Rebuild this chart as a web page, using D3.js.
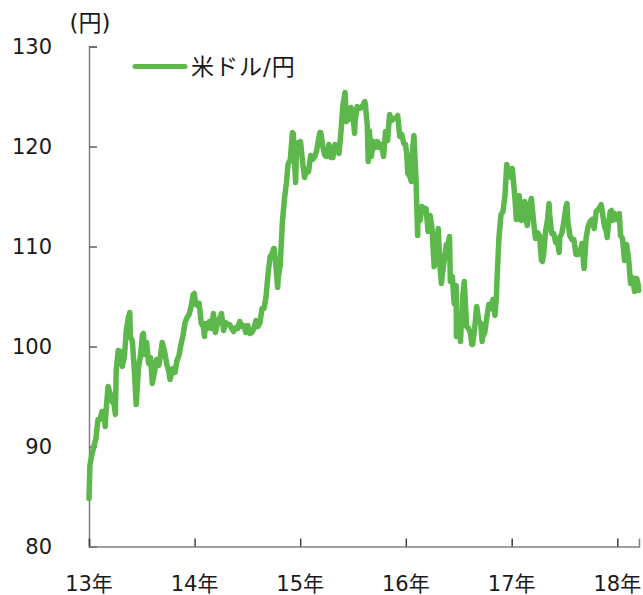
<!DOCTYPE html>
<html lang="ja">
<head>
<meta charset="utf-8">
<script src="https://cdn.jsdelivr.net/npm/d3@7"></script>
<style>
  html, body { margin: 0; padding: 0; background: #fff; }
  svg { display: block; }
  text { font-family: "DejaVu Sans", "Noto Sans CJK JP", sans-serif; fill: #1a1a1a; }
</style>
</head>
<body>
<svg id="chart" width="643" height="595"></svg>
<script>
// USD/JPY observations, 2013 – Mar 2018
const dates = [
  // 2013
  "2013-01-01","2013-01-04","2013-01-11","2013-01-18","2013-01-25","2013-02-01","2013-02-08","2013-02-15","2013-02-22","2013-02-26",
  "2013-03-01","2013-03-08","2013-03-15","2013-03-22","2013-03-29","2013-04-02","2013-04-05","2013-04-12","2013-04-19","2013-04-26",
  "2013-05-03","2013-05-10","2013-05-17","2013-05-22","2013-05-24","2013-05-31","2013-06-07","2013-06-13","2013-06-21","2013-06-28",
  "2013-07-05","2013-07-08","2013-07-12","2013-07-19","2013-07-26","2013-08-02","2013-08-08","2013-08-16","2013-08-23","2013-08-30",
  "2013-09-06","2013-09-11","2013-09-20","2013-09-27","2013-10-04","2013-10-08","2013-10-18","2013-10-25","2013-11-01","2013-11-08",
  "2013-11-15","2013-11-22","2013-11-29","2013-12-06","2013-12-13","2013-12-20","2013-12-27","2013-12-31",
  // 2014
  "2014-01-02","2014-01-06","2014-01-10","2014-01-17","2014-01-24","2014-01-31","2014-02-04","2014-02-07","2014-02-14","2014-02-21",
  "2014-02-28","2014-03-07","2014-03-14","2014-03-21","2014-03-28","2014-04-04","2014-04-11","2014-04-18","2014-04-25","2014-05-02",
  "2014-05-09","2014-05-16","2014-05-23","2014-05-30","2014-06-06","2014-06-13","2014-06-20","2014-06-27","2014-07-04","2014-07-11",
  "2014-07-18","2014-07-25","2014-08-01","2014-08-08","2014-08-15","2014-08-22","2014-08-29","2014-09-05","2014-09-12","2014-09-19",
  "2014-09-26","2014-10-01","2014-10-03","2014-10-10","2014-10-15","2014-10-17","2014-10-24","2014-10-31","2014-11-07","2014-11-14",
  "2014-11-20","2014-11-28","2014-12-05","2014-12-08","2014-12-12","2014-12-16","2014-12-19","2014-12-26","2014-12-31",
  // 2015
  "2015-01-02","2015-01-09","2015-01-16","2015-01-23","2015-01-30","2015-02-06","2015-02-13","2015-02-20","2015-02-27","2015-03-06",
  "2015-03-10","2015-03-13","2015-03-20","2015-03-27","2015-04-03","2015-04-10","2015-04-17","2015-04-24","2015-05-01","2015-05-08",
  "2015-05-15","2015-05-22","2015-05-28","2015-06-05","2015-06-10","2015-06-12","2015-06-19","2015-06-26","2015-07-03","2015-07-08",
  "2015-07-10","2015-07-17","2015-07-24","2015-07-31","2015-08-07","2015-08-12","2015-08-14","2015-08-21","2015-08-24","2015-08-28",
  "2015-09-04","2015-09-11","2015-09-18","2015-09-25","2015-10-02","2015-10-09","2015-10-16","2015-10-23","2015-10-30","2015-11-06",
  "2015-11-13","2015-11-20","2015-11-27","2015-12-04","2015-12-11","2015-12-18","2015-12-25","2015-12-31",
  // 2016
  "2016-01-04","2016-01-08","2016-01-15","2016-01-20","2016-01-22","2016-01-29","2016-02-05","2016-02-11","2016-02-12","2016-02-19",
  "2016-02-26","2016-03-04","2016-03-11","2016-03-18","2016-03-25","2016-04-01","2016-04-08","2016-04-15","2016-04-22","2016-04-28",
  "2016-05-03","2016-05-06","2016-05-13","2016-05-20","2016-05-27","2016-05-31","2016-06-03","2016-06-10","2016-06-16","2016-06-23",
  "2016-06-24","2016-06-27","2016-06-30","2016-07-08","2016-07-15","2016-07-21","2016-07-29","2016-08-05","2016-08-12","2016-08-16",
  "2016-08-19","2016-08-26","2016-09-02","2016-09-09","2016-09-16","2016-09-21","2016-09-23","2016-09-30","2016-10-07","2016-10-14",
  "2016-10-21","2016-10-28","2016-11-04","2016-11-09","2016-11-11","2016-11-18","2016-11-25","2016-12-02","2016-12-09","2016-12-15",
  "2016-12-23","2016-12-30",
  // 2017
  "2017-01-03","2017-01-06","2017-01-13","2017-01-17","2017-01-20","2017-01-27","2017-01-31","2017-02-03","2017-02-10","2017-02-15",
  "2017-02-17","2017-02-24","2017-03-03","2017-03-10","2017-03-17","2017-03-24","2017-03-31","2017-04-07","2017-04-14","2017-04-17",
  "2017-04-21","2017-04-28","2017-05-05","2017-05-10","2017-05-12","2017-05-19","2017-05-26","2017-06-02","2017-06-09","2017-06-14",
  "2017-06-16","2017-06-23","2017-06-30","2017-07-07","2017-07-11","2017-07-14","2017-07-21","2017-07-28","2017-08-04","2017-08-11",
  "2017-08-18","2017-08-25","2017-09-01","2017-09-08","2017-09-15","2017-09-22","2017-09-29","2017-10-06","2017-10-13","2017-10-20",
  "2017-10-27","2017-11-03","2017-11-06","2017-11-10","2017-11-17","2017-11-24","2017-11-27","2017-12-01","2017-12-08","2017-12-12",
  "2017-12-15","2017-12-22","2017-12-29",
  // 2018
  "2018-01-05","2018-01-08","2018-01-12","2018-01-19","2018-01-26","2018-02-02","2018-02-09","2018-02-16","2018-02-23","2018-03-02",
  "2018-03-09","2018-03-14","2018-03-16"
];

const usdJpy = [
  // 2013
  84.8, 88.1, 89.2, 90.0, 90.8, 92.7, 92.7, 93.5, 93.4, 92.0,
  93.6, 96.0, 95.3, 94.5, 94.2, 93.2, 97.6, 99.6, 99.5, 98.0,
  98.9, 101.6, 102.9, 103.4, 101.0, 100.5, 97.5, 94.2, 97.9, 99.1,
  101.2, 101.3, 99.2, 100.4, 98.3, 98.9, 96.3, 97.6, 98.7, 98.1,
  99.2, 100.4, 99.4, 98.2, 97.5, 96.7, 97.8, 97.4, 98.6, 99.1,
  100.2, 101.1, 102.4, 102.9, 103.2, 104.0, 105.2, 105.3,
  // 2014
  104.8, 104.2, 104.1, 104.3, 102.3, 102.0, 101.0, 102.3, 101.8, 102.5,
  101.8, 103.3, 101.4, 102.3, 102.8, 103.3, 101.6, 102.4, 102.2, 102.2,
  101.8, 101.5, 101.9, 101.8, 102.5, 102.0, 102.1, 101.4, 102.1, 101.3,
  101.4, 101.8, 102.6, 102.0, 102.4, 103.8, 103.8, 105.0, 107.3, 109.0,
  109.3, 109.8, 109.8, 107.7, 105.9, 106.9, 108.1, 112.3, 114.6, 116.3,
  118.2, 118.7, 121.4, 121.3, 118.8, 116.4, 119.5, 120.4, 119.8,
  // 2015
  120.5, 118.5, 116.9, 117.7, 117.5, 119.1, 118.7, 119.0, 119.6, 120.8,
  121.4, 121.4, 120.0, 119.1, 119.0, 120.2, 118.9, 118.9, 120.2, 119.7,
  119.3, 121.5, 124.0, 125.4, 122.5, 123.3, 122.7, 123.9, 122.8, 121.3,
  122.6, 124.0, 123.8, 123.9, 124.2, 124.5, 124.3, 122.0, 118.5, 121.6,
  119.0, 120.5, 119.9, 120.5, 119.9, 120.2, 119.0, 121.5, 120.6, 123.2,
  122.6, 122.8, 122.8, 123.1, 121.0, 121.2, 120.3, 120.2,
  // 2016
  119.3, 117.3, 117.0, 116.5, 118.8, 121.1, 116.9, 111.1, 113.2, 112.6,
  114.0, 113.8, 113.8, 111.5, 113.1, 111.7, 108.0, 108.8, 111.8, 108.1,
  106.3, 107.1, 108.6, 110.2, 110.3, 111.0, 106.5, 107.0, 104.3, 106.1,
  101.0, 102.0, 103.0, 100.5, 104.8, 106.5, 102.0, 101.8, 101.3, 100.2,
  100.2, 101.8, 104.0, 102.6, 102.3, 100.5, 101.0, 101.4, 102.9, 104.2,
  103.8, 104.7, 103.1, 104.8, 106.6, 110.9, 113.2, 113.5, 115.2, 118.2,
  117.2, 116.9,
  // 2017
  117.8, 116.9, 114.5, 112.7, 114.6, 115.1, 112.8, 112.6, 113.2, 114.5,
  112.9, 112.1, 114.0, 114.8, 112.7, 110.8, 111.4, 111.1, 108.6, 108.5,
  109.1, 111.5, 112.7, 114.3, 113.3, 111.3, 111.3, 110.4, 110.3, 109.4,
  110.9, 111.3, 112.4, 113.9, 114.3, 112.5, 111.1, 110.7, 110.7, 109.2,
  109.2, 109.4, 110.3, 107.8, 110.8, 112.0, 112.5, 112.7, 111.8, 113.5,
  113.7, 114.0, 114.2, 113.5, 112.1, 111.5, 110.9, 112.2, 113.5, 113.6,
  112.6, 113.3, 112.7,
  // 2018
  113.1, 113.3, 111.1, 110.8, 108.6, 110.2, 108.8, 106.3, 106.9, 105.5,
  106.8, 106.2, 105.6
];

const yTicks = [80, 90, 100, 110, 120, 130];
const yearTicks = ["2013-01-01","2014-01-01","2015-01-01","2016-01-01","2017-01-01","2018-01-01"];
const yearLabels = ["13年","14年","15年","16年","17年","18年"];
const unitLabel = "(円)";
const seriesName = "米ドル/円";

const parse = d3.timeParse("%Y-%m-%d");
const series = dates.map((d, i) => ({ date: parse(d), value: usdJpy[i] }));

const svg = d3.select("#chart");
const lineColor = "#5cb84a";
const axisColor = "#808080";

const x = d3.scaleTime()
  .domain([parse("2013-01-01"), parse("2018-03-17")])
  .range([89, 639]);

const y = d3.scaleLinear()
  .domain([80, 130])
  .range([546.5, 46.5]);

// Y axis: inward ticks, labels set off to the left
const yAxis = svg.append("g")
  .attr("transform", "translate(89,0)")
  .call(d3.axisRight(y).tickValues(yTicks).tickSize(8).tickFormat(d3.format("d")));
yAxis.select(".domain").attr("stroke", axisColor).attr("stroke-width", 1.5);
yAxis.selectAll(".tick line").attr("stroke", "#606060").attr("stroke-width", 1.5);
yAxis.selectAll(".tick text")
  .attr("x", -37).attr("dy", "0.32em")
  .attr("text-anchor", "end")
  .style("font-size", "21px").attr("fill", "#1a1a1a");

// X axis: yearly ticks pointing up into the plot
const xAxis = svg.append("g")
  .attr("transform", "translate(0,546.5)")
  .call(d3.axisTop(x).tickValues(yearTicks.map(parse)).tickSize(8).tickFormat(""));
xAxis.select(".domain").attr("stroke", axisColor).attr("stroke-width", 1.5);
xAxis.selectAll(".tick line").attr("stroke", "#404040").attr("stroke-width", 1.5);

svg.append("g").selectAll("text")
  .data(yearTicks)
  .join("text")
  .attr("x", d => x(parse(d)))
  .attr("y", 591)
  .attr("text-anchor", "middle")
  .style("font-size", "21px")
  .text((d, i) => yearLabels[i]);

// Unit label
svg.append("text")
  .attr("x", 90).attr("y", 31)
  .attr("text-anchor", "middle")
  .style("font-size", "23px")
  .text(unitLabel);

// Exchange-rate line
const line = d3.line()
  .x(d => x(d.date))
  .y(d => y(d.value));

svg.append("path")
  .datum(series)
  .attr("d", line)
  .attr("fill", "none")
  .attr("stroke", lineColor)
  .attr("stroke-width", 5.5)
  .attr("stroke-linejoin", "round")
  .attr("stroke-linecap", "round");

// Legend
svg.append("line")
  .attr("x1", 135).attr("x2", 185)
  .attr("y1", 66.5).attr("y2", 66.5)
  .attr("stroke", lineColor)
  .attr("stroke-width", 5)
  .attr("stroke-linecap", "round");
svg.append("text")
  .attr("x", 191).attr("y", 66.5)
  .attr("dy", "0.36em")
  .style("font-size", "23px")
  .style("letter-spacing", "1px")
  .text(seriesName);
</script>
</body>
</html>
